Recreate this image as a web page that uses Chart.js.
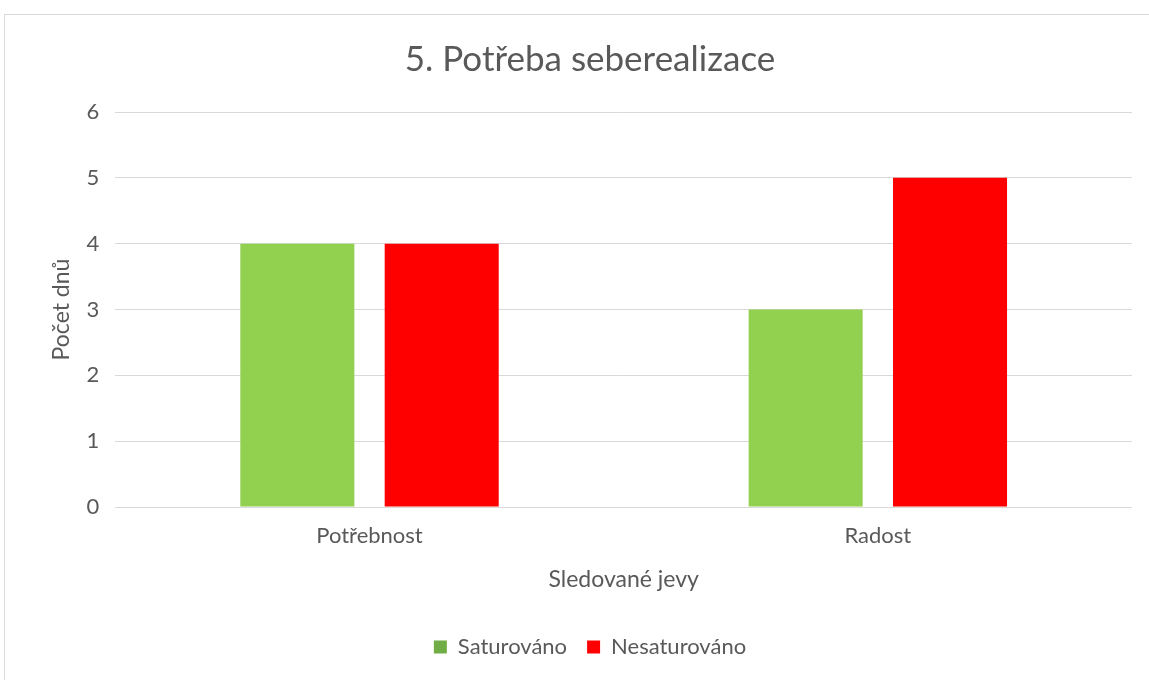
<!DOCTYPE html>
<html><head><meta charset="utf-8">
<script src="https://cdn.jsdelivr.net/npm/chart.js@4.4.0/dist/chart.umd.min.js"></script>
<style>
html,body{margin:0;padding:0;background:#fff;}
#wrap{position:relative;width:1149px;height:680px;overflow:hidden;}
#frame{position:absolute;left:4px;top:14px;width:1200px;height:720px;border:1px solid #d9d9d9;box-sizing:border-box;}
canvas{position:absolute;left:0;top:0;}
</style></head>
<body><div id="wrap"><div id="frame"></div><canvas id="c" width="1149" height="680"></canvas></div>
<script>
const categories = ["Potřebnost", "Radost"];
const seriesNames = ["Saturováno", "Nesaturováno"];
const saturovano = [4, 3];
const nesaturovano = [4, 5];
const yTicks = [0, 1, 2, 3, 4, 5, 6];

const barColors = ["#92D050", "#FF0000"];
const legendColors = ["#70AD47", "#FF0000"];
const fontFam = "Lato, 'Open Sans', sans-serif";
const grey = "#595959";

new Chart(document.getElementById('c'), {
  type: 'bar',
  data: {
    labels: categories,
    datasets: [
      {label: seriesNames[0], data: saturovano, backgroundColor: barColors[0], categoryPercentage: 0.568, barPercentage: 0.79},
      {label: seriesNames[1], data: nesaturovano, backgroundColor: barColors[1], categoryPercentage: 0.568, barPercentage: 0.79}
    ]
  },
  options: {
    responsive: false,
    animation: false,
    devicePixelRatio: 1,
    layout: {padding: {left: 48, right: 17, top: 20, bottom: 12}},
    plugins: {
      title: {display: true, text: "5. Potřeba seberealizace", color: grey, font: {family: fontFam, size: 35, weight: 'normal'}, padding: {top: 19, bottom: 31}},
      legend: {
        position: 'bottom',
        labels: {
          color: grey, font: {family: fontFam, size: 22}, boxWidth: 13, boxHeight: 13, padding: 20,
          generateLabels: (chart) => chart.data.datasets.map((ds, i) => ({
            text: ds.label, fillStyle: legendColors[i], strokeStyle: legendColors[i], lineWidth: 0, datasetIndex: i, fontColor: grey
          }))
        }
      },
      tooltip: {enabled: false}
    },
    scales: {
      x: {
        grid: {display: false, drawTicks: false},
        border: {display: false},
        ticks: {color: grey, font: {family: fontFam, size: 22}, padding: 16},
        title: {display: true, text: "Sledované jevy", color: grey, font: {family: fontFam, size: 23}, padding: {top: 0, bottom: 23}}
      },
      y: {
        min: 0, max: 6,
        afterBuildTicks: (axis) => { axis.ticks = yTicks.map(v => ({value: v})); },
        grid: {color: "#d9d9d9", lineWidth: 1, drawTicks: false},
        border: {display: false},
        ticks: {color: grey, font: {family: fontFam, size: 22}, padding: 16},
        title: {display: true, text: "Počet dnů", color: grey, font: {family: fontFam, size: 23}, padding: {top: 0, bottom: -5}}
      }
    }
  }
});
</script></body></html>
